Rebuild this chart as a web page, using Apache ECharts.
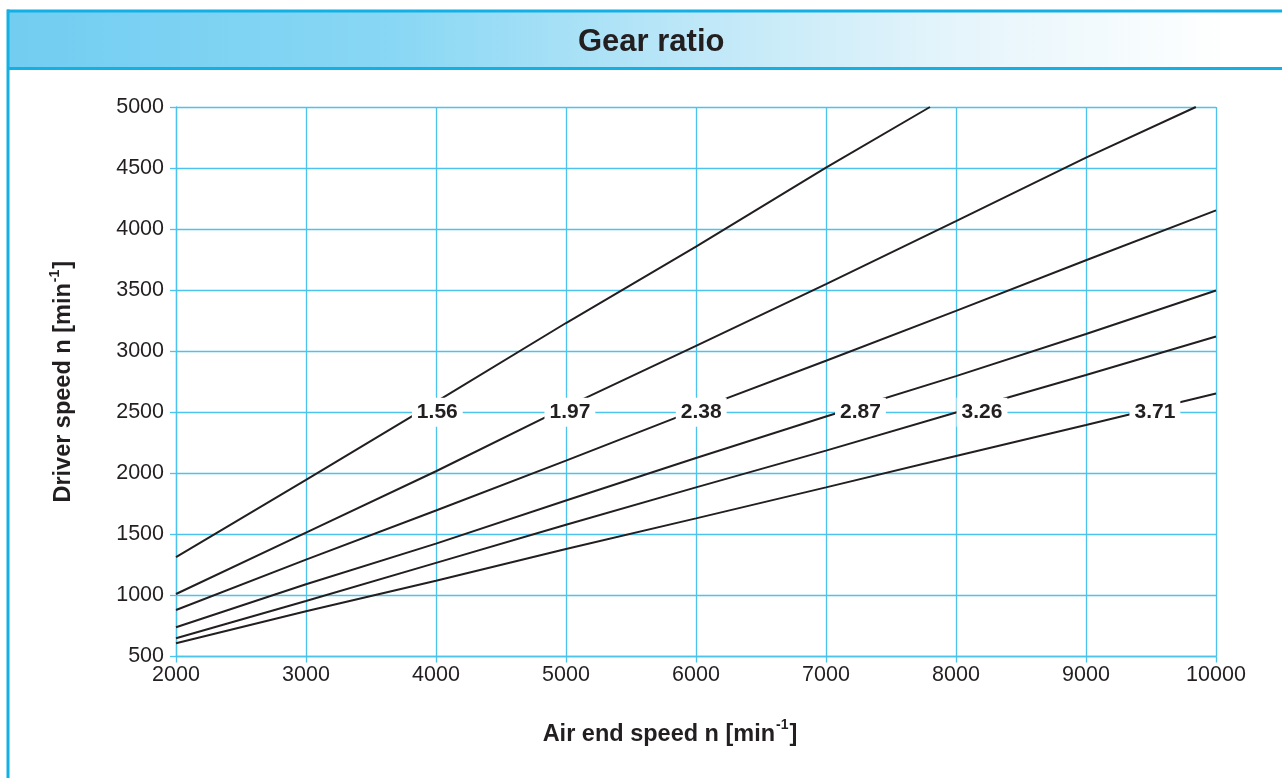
<!DOCTYPE html>
<html>
<head>
<meta charset="utf-8">
<script src="https://cdn.jsdelivr.net/npm/echarts@6/dist/echarts.min.js"></script>
<style>
html,body{margin:0;padding:0;background:#fff;}
#chart{width:1282px;height:778px;}
</style>
</head>
<body>
<div id="chart"></div>
<script>
// ---- data ----
const chartTitle = 'Gear ratio';
const ratioNames = ['1.56', '1.97', '2.38', '2.87', '3.26', '3.71'];
// air end speed [min^-1] vs driver speed [min^-1]
const line156 = [[2000,1313],[3000,1947],[4000,2586],[5000,3231],[6000,3856],[7000,4504],[7800,5000]];
const line197 = [[2000,1012],[3000,1515],[4000,2017],[5000,2542],[6000,3044],[7000,3549],[8000,4066],[9000,4585],[9845,5000]];
const line238 = [[2000,881],[3000,1293],[4000,1696],[5000,2104],[6000,2520],[7000,2922],[8000,3330],[9000,3745],[10000,4153]];
const line287 = [[2000,739],[3000,1092],[4000,1424],[5000,1777],[6000,2125],[7000,2465],[8000,2796],[9000,3141],[10000,3497]];
const line326 = [[2000,649],[3000,954],[4000,1267],[5000,1579],[6000,1885],[7000,2186],[8000,2498],[9000,2805],[10000,3120]];
const line371 = [[2000,608],[3000,870],[4000,1121],[5000,1380],[6000,1631],[7000,1885],[8000,2142],[9000,2396],[10000,2653]];
const ratioLines = [line156, line197, line238, line287, line326, line371];
// label anchor positions (air end speed), all placed on driver speed 2500
const labelX = [4010, 5030, 6040, 7265, 8200, 9530];
const labelY = 2500;
const xAxisMin = 2000, xAxisMax = 10000, xStep = 500;
const yAxisMin = 500, yAxisMax = 5000, yStep = 500;
const xLabelTicks = [2000,3000,4000,5000,6000,7000,8000,9000,10000];

// ---- styles ----
const INK = '#231f20';
const GRIDC = '#4cc3ec';
const BLUE = '#12b0e4';
const FONT = '"Liberation Sans", Arial, Helvetica, sans-serif';

const chart = echarts.init(document.getElementById('chart'), null, {renderer: 'canvas'});

const series = ratioLines.map((pts, i) => ({
  type: 'line',
  name: ratioNames[i],
  data: pts,
  showSymbol: false,
  symbol: 'none',
  clip: true,
  lineStyle: {color: INK, width: 2},
  z: 3,
  silent: true
}));

series.push({
  type: 'scatter',
  data: labelX.map((x, i) => [x, labelY, ratioNames[i]]),
  symbolSize: 0,
  itemStyle: {opacity: 1},
  z: 10,
  silent: true,
  label: {
    show: true,
    position: 'inside',
    formatter: p => p.value[2],
    color: INK,
    opacity: 1,
    fontFamily: FONT,
    fontWeight: 'bold',
    fontSize: 21,
    backgroundColor: '#ffffff',
    padding: [5, 5, 3, 5]
  }
});

const nameRich = {
  t: {fontFamily: FONT, fontWeight: 'bold', fontSize: 23.5, color: INK, lineHeight: 28, verticalAlign: 'bottom'},
  s: {fontFamily: FONT, fontWeight: 'bold', fontSize: 14, color: INK, lineHeight: 28, verticalAlign: 'top', padding: [0, 1, 0, 1]}
};

const option = {
  backgroundColor: '#ffffff',
  animation: false,
  title: {
    text: chartTitle,
    left: 573,
    top: 22,
    textStyle: {color: INK, fontFamily: FONT, fontWeight: 'bold', fontSize: 31}
  },
  graphic: [
    {
      type: 'rect', z: -10, silent: true,
      shape: {x: 9, y: 12, width: 1273, height: 56},
      style: {
        fill: new echarts.graphic.LinearGradient(0, 0, 1, 0, [
          {offset: 0, color: '#72cdf1'},
          {offset: 0.3, color: '#88d7f4'},
          {offset: 0.55, color: '#c0e8f8'},
          {offset: 0.75, color: '#e6f5fb'},
          {offset: 0.96, color: '#ffffff'}
        ])
      }
    },
    {type: 'line', silent: true, z: -5, shape: {x1: 7, y1: 11, x2: 1282, y2: 11}, style: {stroke: BLUE, lineWidth: 3}},
    {type: 'line', silent: true, z: -5, shape: {x1: 7, y1: 68.5, x2: 1282, y2: 68.5}, style: {stroke: BLUE, lineWidth: 3}},
    {type: 'line', silent: true, z: -5, shape: {x1: 8, y1: 9.5, x2: 8, y2: 778}, style: {stroke: BLUE, lineWidth: 3}}
  ],
  grid: {left: 176, right: 66, top: 107, bottom: 121.5, containLabel: false},
  xAxis: {
    type: 'value',
    min: xAxisMin, max: xAxisMax, interval: xStep,
    name: '{t|Air end speed n [min}{s|-1}{t|]}',
    nameLocation: 'middle',
    nameGap: 62,
    nameTextStyle: {rich: nameRich, padding: [0, 52, 0, 0]},
    axisLine: {show: true, lineStyle: {color: GRIDC, width: 1.3}},
    axisTick: {show: true, length: 6, lineStyle: {color: GRIDC, width: 1.3},
      customValues: xLabelTicks},
    axisLabel: {
      color: INK, fontFamily: FONT, fontSize: 21.5, margin: 8,
      customValues: xLabelTicks,
      formatter: v => String(v)
    },
    splitLine: {show: true, lineStyle: {color: GRIDC, width: 1.3}}
  },
  yAxis: {
    type: 'value',
    min: yAxisMin, max: yAxisMax, interval: yStep,
    name: '{t|Driver speed n [min}{s|-1}{t|]}',
    nameLocation: 'middle',
    nameRotate: 90,
    nameGap: 100,
    nameTextStyle: {rich: nameRich},
    axisLine: {show: true, lineStyle: {color: GRIDC, width: 1.3}},
    axisTick: {show: true, length: 6, lineStyle: {color: GRIDC, width: 1.3}},
    axisLabel: {color: INK, fontFamily: FONT, fontSize: 21.5, margin: 12, formatter: v => String(v)},
    splitLine: {show: true, lineStyle: {color: GRIDC, width: 1.3}}
  },
  series: series
};

chart.setOption(option);
</script>
</body>
</html>
